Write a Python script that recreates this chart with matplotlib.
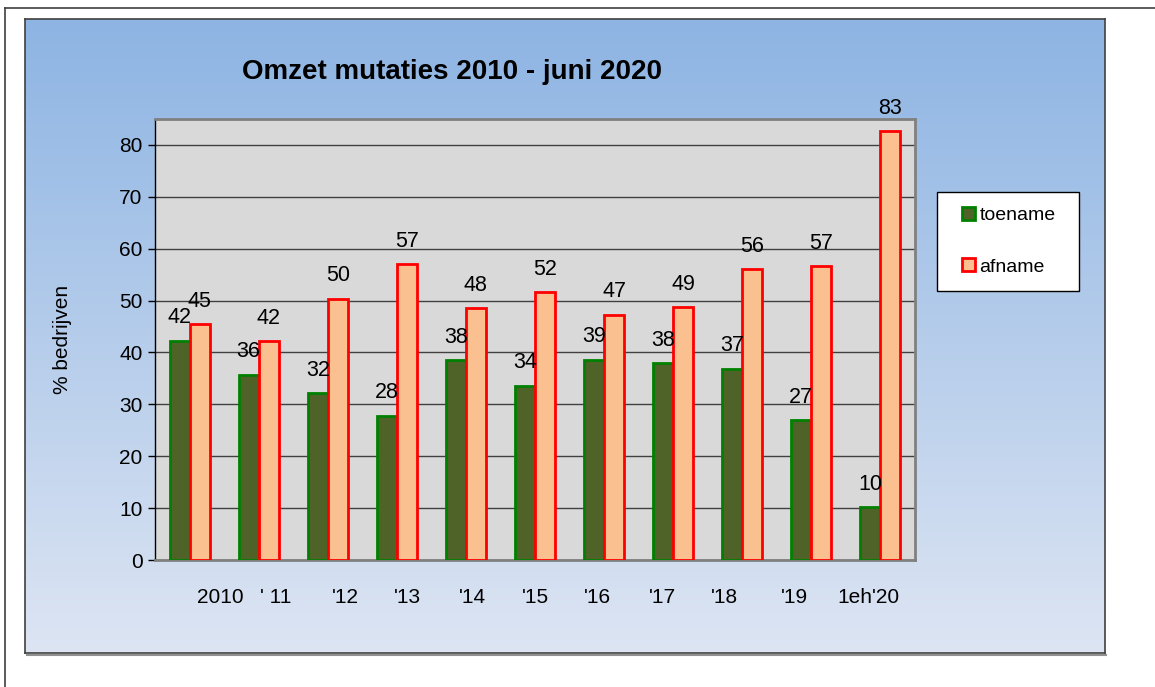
import matplotlib
matplotlib.use("Agg")
import matplotlib.pyplot as plt
import numpy as np
from matplotlib.patches import Rectangle

plt.rcParams['font.family'] = ['Liberation Sans', 'DejaVu Sans']

categories = ["2010", "' 11", "'12", "'13", "'14", "'15", "'16", "'17", "'18", "'19", "1eh'20"]
toename = [42.3, 35.7, 32.1, 27.8, 38.5, 33.6, 38.6, 37.9, 36.9, 26.9, 10.2]
afname = [45.4, 42.2, 50.4, 57.0, 48.5, 51.6, 47.3, 48.7, 56.0, 56.6, 82.7]
label_offsets = [0.44, 0.24, 0.25, 0.16, 0.09, 0.0, -0.09, -0.16, -0.26, -0.25, -0.17]

W, H = 1155, 687
fig = plt.figure(figsize=(W / 100, H / 100), dpi=100)
fig.patch.set_facecolor('white')

# outer frame lines
fig.add_artist(plt.Line2D([5 / W, 5 / W], [0, 1 - 8 / H], color='#404040', lw=1.2, transform=fig.transFigure))
fig.add_artist(plt.Line2D([5 / W, 1], [1 - 8 / H, 1 - 8 / H], color='#404040', lw=1.2, transform=fig.transFigure))

# gradient panel
px0, py0, px1, py1 = 25, 19, 1105, 653
bg = fig.add_axes([px0 / W, 1 - py1 / H, (px1 - px0) / W, (py1 - py0) / H], zorder=0)
top = np.array([141, 180, 227]) / 255
bot = np.array([221, 229, 243]) / 255
t = np.linspace(0, 1, 256)[:, None]
grad = top[None, :] * (1 - t) + bot[None, :] * t
bg.imshow(grad[:, None, :], aspect='auto', extent=[0, 1, 0, 1])
bg.set_xticks([]); bg.set_yticks([])
for s in bg.spines.values():
    s.set_color('#404040'); s.set_linewidth(1.2)
fig.add_artist(plt.Line2D([(px0 + 2) / W, (px1 + 1) / W], [1 - (py1 + 1.5) / H] * 2, color='#909090', lw=1.5, transform=fig.transFigure))

# plot area
ax = fig.add_axes([155 / W, 1 - 560 / H, 760 / W, 441 / H], zorder=1)
ax.set_facecolor('#D9D9D9')
x = np.arange(len(categories))
bw = 0.29
ax.bar(x - bw / 2, toename, width=bw, color='#4F6228', edgecolor='#008000', linewidth=2, zorder=3, label='toename')
ax.bar(x + bw / 2, afname, width=bw, color='#FAC090', edgecolor='#FF0000', linewidth=2, zorder=3, label='afname')

for xi, v in zip(x, toename):
    ax.text(xi - bw / 2, v + 4.4, f"{round(v)}", ha='center', va='center', fontsize=15.5, zorder=4)
for xi, v in zip(x, afname):
    ax.text(xi + bw / 2, v + 4.4, f"{round(v)}", ha='center', va='center', fontsize=15.5, zorder=4, clip_on=False)

ax.set_xlim(-0.5, len(categories) - 0.5)
ax.set_ylim(0, 85)
ax.set_yticks(np.arange(0, 90, 10))
ax.yaxis.grid(True, color='#404040', linewidth=1, zorder=1)
ax.set_axisbelow(True)
ax.tick_params(axis='y', labelsize=15, length=5, width=1, direction='out', pad=4)
ax.set_xticks(x + np.array(label_offsets))
ax.set_xticklabels(categories, fontsize=15)
ax.tick_params(axis='x', length=0, pad=20)
for side in ['top', 'right', 'bottom']:
    ax.spines[side].set_color('#808080'); ax.spines[side].set_linewidth(2)
ax.spines['left'].set_color('black'); ax.spines['left'].set_linewidth(1)

ax.set_ylabel('% bedrijven', fontsize=15, labelpad=34)

fig.text(452 / W, 1 - 72 / H, 'Omzet mutaties 2010 - juni 2020', ha='center', va='center',
         fontsize=20, fontweight='bold')

# legend box
fig.add_artist(Rectangle((937 / W, 1 - 291 / H), 142 / W, 99 / H, transform=fig.transFigure,
                         facecolor='white', edgecolor='black', linewidth=1, zorder=5))
leg = fig.legend(loc='upper left', bbox_to_anchor=(962 / W, 1 - 207 / H), bbox_transform=fig.transFigure,
                 fontsize=14, frameon=False,
                 handlelength=0.65, handleheight=0.65, handletextpad=0.25, labelspacing=1.75,
                 borderpad=0, borderaxespad=0)
leg.set_zorder(6)

fig.savefig('out.png', dpi=100)
